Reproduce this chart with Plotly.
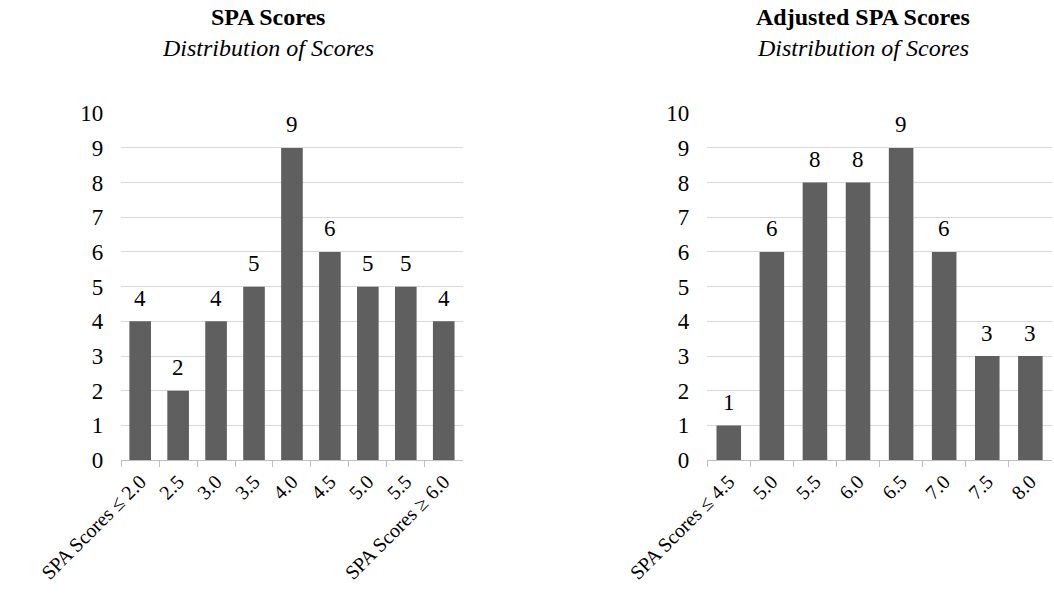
import plotly.graph_objects as go

# Distribution of SPA scores (counts per score bin)
spa_bins = ["SPA Scores ≤ 2.0", "2.5", "3.0", "3.5", "4.0", "4.5", "5.0", "5.5", "SPA Scores ≥ 6.0"]
spa_counts = [4, 2, 4, 5, 9, 6, 5, 5, 4]

# Distribution of adjusted SPA scores
adj_bins = ["SPA Scores ≤ 4.5", "5.0", "5.5", "6.0", "6.5", "7.0", "7.5", "8.0"]
adj_counts = [1, 6, 8, 8, 9, 6, 3, 3]

y_ticks = list(range(0, 11))

FONT = "Liberation Serif"
BAR = "#5f5f5f"
GRID = "#d9d9d9"
AXIS = "#bfbfbf"
W, H = 1054, 596

fig = go.Figure()

for bins, counts, xa, ya in [(spa_bins, spa_counts, "x", "y"), (adj_bins, adj_counts, "x2", "y2")]:
    fig.add_trace(go.Bar(
        x=bins, y=counts, xaxis=xa, yaxis=ya,
        marker=dict(color=BAR, line=dict(width=0)),
        hoverinfo="x+y",
    ))
    # value labels above each bar (x given as category index)
    for i, c in enumerate(counts):
        fig.add_annotation(
            x=i, y=c, xref=xa, yref=ya, text=str(c), showarrow=False,
            xanchor="center", yanchor="middle", yshift=23,
            font=dict(family=FONT, size=23, color="#000000"),
        )

xcommon = dict(
    type="category", tickangle=-45, tickson="boundaries",
    ticks="outside", ticklen=6, tickcolor=AXIS,
    showline=True, linecolor=AXIS, linewidth=1,
    showgrid=False, automargin=False, ticklabelstandoff=1,
    tickfont=dict(family=FONT, size=20, color="#000000"),
)
ycommon = dict(
    range=[0, 10], tickvals=y_ticks, showgrid=True, gridcolor=GRID, gridwidth=1,
    showline=False, zeroline=False, ticks="", automargin=False,
    ticklabelstandoff=17,
    tickfont=dict(family=FONT, size=23, color="#000000"),
)

fig.update_layout(
    width=W, height=H,
    margin=dict(l=0, r=0, t=0, b=0),
    paper_bgcolor="white", plot_bgcolor="white",
    showlegend=False, bargap=0.43,
    font=dict(family=FONT, color="#000000"),
    xaxis=dict(domain=[0.115, 0.439], anchor="y", **xcommon),
    yaxis=dict(domain=[0.228, 0.810], anchor="x", **ycommon),
    xaxis2=dict(domain=[0.671, 0.998], anchor="y2", **xcommon),
    yaxis2=dict(domain=[0.228, 0.810], anchor="x2", **ycommon),
)

# Chart titles (text, x px, y px, font size), converted to paper coordinates
titles = [
    ("<b>SPA Scores</b>", 268, 17, 24),
    ("<i>Distribution of Scores</i>", 268, 48, 24),
    ("<b>Adjusted SPA Scores</b>", 863, 17, 24),
    ("<i>Distribution of Scores</i>", 863, 48, 24),
]
for text, px, py, size in titles:
    fig.add_annotation(
        text=text, x=px / W, y=1 - py / H, xref="paper", yref="paper",
        xanchor="center", yanchor="middle", showarrow=False,
        font=dict(family=FONT, size=size, color="#000000"),
    )

fig.write_html("out.html")
